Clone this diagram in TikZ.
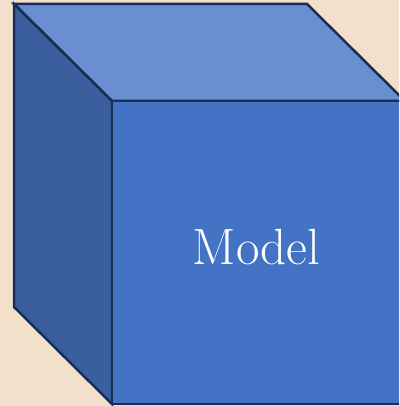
\documentclass[tikz,border=0pt]{standalone}
\begin{document}
\begin{tikzpicture}[x=1pt,y=-1pt,
  face/.style={draw=edgec,line width=2.5pt,line join=miter},
  lbl/.style={text=white,font=\fontsize{51}{55}\selectfont,inner sep=0pt}]
\definecolor{bgc}{HTML}{F2E0CB}
\definecolor{edgec}{HTML}{1A2E55}
\definecolor{topc}{HTML}{6A8FD0}
\definecolor{leftc}{HTML}{3A5E9E}
\definecolor{frontc}{HTML}{4472C4}
\fill[bgc] (0,0) rectangle (399,406);
\useasboundingbox (0,0) rectangle (399,406);
\begin{scope}
\clip (0,0) rectangle (399,406);
\coordinate (btl) at (14,4);
\coordinate (btr) at (307,4);
\coordinate (bbl) at (14,307);
\coordinate (ftl) at (112,101);
\coordinate (ftr) at (405,101);
\coordinate (fbl) at (112,404);
\coordinate (fbr) at (405,404);
\filldraw[face,fill=topc] (btl) -- (btr) -- (ftr) -- (ftl) -- cycle;
\filldraw[face,fill=leftc] (btl) -- (ftl) -- (fbl) -- (bbl) -- cycle;
\filldraw[face,fill=frontc] (ftl) -- (ftr) -- (fbr) -- (fbl) -- cycle;
\end{scope}
\node[lbl] (m) at (256.5,247) {Model};
\end{tikzpicture}
\end{document}
